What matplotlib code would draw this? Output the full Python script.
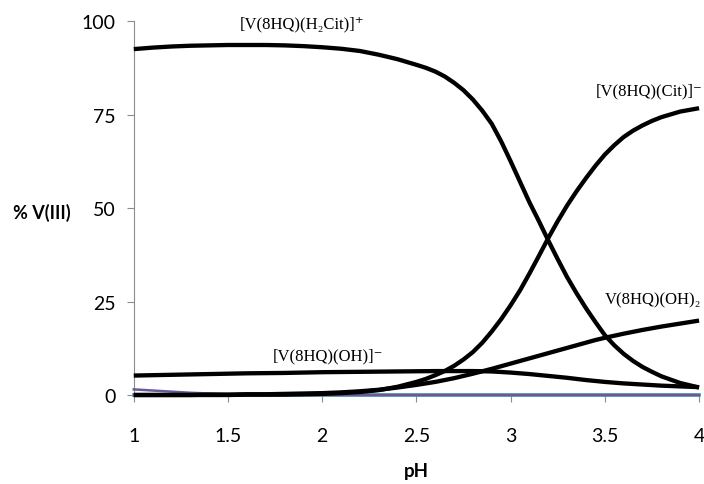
import matplotlib
matplotlib.use("Agg")
import matplotlib.pyplot as plt

# pH grid and species distribution (% V(III))
ph = [1.0, 1.1, 1.2, 1.3, 1.4, 1.5, 1.6, 1.7, 1.8, 1.9,
      2.0, 2.1, 2.2, 2.3, 2.4,
      2.5, 2.55, 2.6, 2.65, 2.7, 2.75, 2.8, 2.85, 2.9, 2.95,
      3.0, 3.05, 3.1, 3.15, 3.2, 3.25, 3.3, 3.35, 3.4, 3.45,
      3.5, 3.55, 3.6, 3.65, 3.7, 3.75, 3.8, 3.9, 4.0]

h2cit = [92.5, 92.9, 93.2, 93.4, 93.5, 93.6, 93.6, 93.6, 93.5, 93.3,
         93.0, 92.6, 92.0, 91.0, 89.8,
         88.3, 87.5, 86.5, 85.2, 83.5, 81.5, 79.0, 76.0, 72.5, 67.8,
         62.5, 57.0, 51.5, 46.5, 41.3, 36.3, 31.5, 27.2, 23.2, 19.5,
         16.0, 13.3, 11.0, 9.1, 7.5, 6.2, 5.0, 3.2, 2.0]

cit = [0.0, 0.0, 0.0, 0.0, 0.0, 0.0, 0.1, 0.1, 0.1, 0.2,
       0.3, 0.5, 0.8, 1.3, 2.2,
       3.5, 4.3, 5.3, 6.4, 7.8, 9.5, 11.5, 14.0, 17.0, 20.3,
       24.0, 28.0, 32.5, 37.2, 42.0, 46.5, 50.7, 54.5, 58.0, 61.3,
       64.3, 66.8, 69.0, 70.7, 72.1, 73.3, 74.3, 75.8, 76.7]

oh2 = [0.0, 0.0, 0.0, 0.0, 0.1, 0.1, 0.2, 0.2, 0.3, 0.4,
       0.5, 0.7, 1.0, 1.4, 2.0,
       2.7, 3.1, 3.5, 4.0, 4.5, 5.1, 5.7, 6.35, 7.0, 7.7,
       8.4, 9.1, 9.8, 10.5, 11.2, 11.9, 12.6, 13.3, 14.0, 14.7,
       15.3, 15.85, 16.4, 16.9, 17.4, 17.85, 18.3, 19.1, 19.9]

oh = [5.2, 5.3, 5.4, 5.5, 5.6, 5.7, 5.8, 5.85, 5.9, 6.0,
      6.1, 6.15, 6.2, 6.25, 6.3,
      6.35, 6.37, 6.4, 6.4, 6.4, 6.4, 6.4, 6.35, 6.3, 6.15,
      6.0, 5.8, 5.6, 5.35, 5.1, 4.85, 4.6, 4.3, 4.0, 3.75,
      3.5, 3.3, 3.1, 2.95, 2.8, 2.65, 2.5, 2.3, 2.1]

free_v = [1.5, 1.2, 0.9, 0.6, 0.4, 0.25, 0.1, 0.05, 0.0, 0.0,
          0.0, 0.0, 0.0, 0.0, 0.0] + [0.0] * 29

baseline = [0.0] * len(ph)

fig = plt.figure(figsize=(7.04, 4.85), dpi=100)
ax = fig.add_axes([0.190, 0.1835, 0.803, 0.771])

ax.plot(ph, baseline, color="#4a9bb3", lw=2.6, clip_on=False, zorder=2)
ax.plot(ph, free_v, color="#6a5a96", lw=1.8, clip_on=False, zorder=3)
for s in (oh, oh2, cit, h2cit):
    ax.plot(ph, s, color="black", lw=3.1, clip_on=False,
            solid_capstyle="butt", solid_joinstyle="round", zorder=4)

ax.set_xlim(1, 4)
ax.set_ylim(0, 100)
ax.set_xticks([1, 1.5, 2, 2.5, 3, 3.5, 4])
ax.set_xticklabels(["1", "1.5", "2", "2.5", "3", "3.5", "4"])
ax.set_yticks([0, 25, 50, 75, 100])

for side in ("top", "right"):
    ax.spines[side].set_visible(False)
ax.spines["left"].set_color("#8c8c8c")
ax.spines["bottom"].set_color("#8c8c8c")
ax.tick_params(colors="#8c8c8c", length=5, width=0.8, labelcolor="black",
               labelsize=14)
ax.tick_params(axis="x", pad=18)
ax.tick_params(axis="y", pad=8)
for lab in ax.get_xticklabels() + ax.get_yticklabels():
    lab.set_family("Lato")

fig.text(0.06, 0.561, "% V(III)", fontsize=13, fontweight="bold",
         family="Lato", ha="center", va="center")
fig.text(0.592, 0.027, "pH", fontsize=13.5, fontweight="bold",
         family="Lato", ha="center", va="center")

serif = ["Liberation Serif", "DejaVu Serif"]
ax.text(1.56, 99.5, "[V(8HQ)(H\u2082Cit)]\u207a", fontsize=12,
        family=serif, va="center")
ax.text(3.45, 81.5, "[V(8HQ)(Cit)]\u207b", fontsize=12,
        family=serif, va="center")
ax.text(3.5, 25.5, "V(8HQ)(OH)\u2082", fontsize=12,
        family=serif, va="center")
ax.text(1.74, 10.5, "[V(8HQ)(OH)]\u207b", fontsize=12,
        family=serif, va="center")

fig.savefig("out.png", dpi=100)
